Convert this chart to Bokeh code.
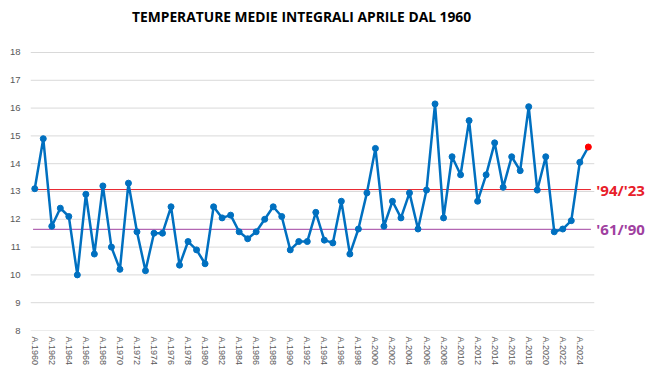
from bokeh.plotting import figure
from bokeh.models import Range1d, FixedTicker, Label, ColumnDataSource
from bokeh.embed import file_html
from bokeh.resources import INLINE

years = list(range(1960, 2026))
temps = [13.1, 14.9, 11.75, 12.4, 12.1, 10.0, 12.9, 10.75, 13.2, 11.0,
         10.2, 13.3, 11.55, 10.15, 11.5, 11.5, 12.45, 10.35, 11.2, 10.9,
         10.4, 12.45, 12.05, 12.15, 11.55, 11.3, 11.55, 12.0, 12.45, 12.1,
         10.9, 11.2, 11.2, 12.25, 11.25, 11.15, 12.65, 10.75, 11.65, 12.95,
         14.55, 11.75, 12.65, 12.05, 12.95, 11.65, 13.05, 16.15, 12.05, 14.25,
         13.6, 15.55, 12.65, 13.6, 14.75, 13.15, 14.25, 13.75, 16.05, 13.05,
         14.25, 11.55, 11.65, 11.95, 14.05, 14.6]
tick_years = years[:-1:2]
tick_labels = {y: f"A.{y}" for y in tick_years}
y_ticks = list(range(8, 19))
ref_names = ["'94/'23", "'61/'90"]
ref_values = [13.07, 11.64]
ref_colors = ["#e8202a", "#a040a0"]
title_text = "TEMPERATURE MEDIE INTEGRALI APRILE DAL 1960"

# plot area spans the years plus room on the right for the reference labels
# and room on top for the title
x_start = years[0] - 0.5
grid_end = years[-1] + 0.7
x_end = years[-1] + 7.3
y_end = y_ticks[-1] + 1.87

p = figure(width=650, height=370, output_backend="svg", toolbar_location=None,
           x_range=Range1d(x_start, x_end), y_range=Range1d(y_ticks[0], y_end),
           min_border_left=30, min_border_right=0, min_border_top=0,
           min_border_bottom=40, outline_line_color=None)

# axes
p.xaxis.ticker = FixedTicker(ticks=tick_years)
p.xaxis.major_label_overrides = tick_labels
p.xaxis.major_label_orientation = "vertical"
p.xaxis.major_label_text_font = "Liberation Sans"
p.xaxis.major_label_text_font_size = "9px"
p.xaxis.major_label_text_color = "#595959"
p.xaxis.axis_line_color = None
p.xaxis.major_tick_line_color = None
p.xaxis.minor_tick_line_color = None
p.xaxis.major_tick_out = 0
p.xaxis.major_tick_in = 0
p.xaxis.major_label_standoff = 6

p.yaxis.ticker = FixedTicker(ticks=y_ticks)
p.yaxis.major_label_text_font = "Liberation Sans"
p.yaxis.major_label_text_font_size = "9.5px"
p.yaxis.major_label_text_color = "#595959"
p.yaxis.axis_line_color = None
p.yaxis.major_tick_line_color = None
p.yaxis.minor_tick_line_color = None
p.yaxis.major_tick_out = 0
p.yaxis.major_tick_in = 0
p.yaxis.major_label_standoff = 10

p.xgrid.grid_line_color = None
p.ygrid.grid_line_color = None

# title
p.add_layout(Label(x=(years[0] + years[-1]) / 2, y=y_end, text=title_text,
                   x_offset=-10, y_offset=-16, text_align="center",
                   text_baseline="middle", text_font="Open Sans",
                   text_font_style="bold", text_font_size="13.8px",
                   text_color="#000000"))

# horizontal gridlines limited to the data area
p.segment(x0=[x_start] * len(y_ticks), y0=y_ticks, x1=[grid_end] * len(y_ticks),
          y1=y_ticks, line_color="#d9d9d9", line_width=1)

# reference lines
for name, val, col in zip(ref_names, ref_values, ref_colors):
    p.segment(x0=[years[0] - 0.2], y0=[val], x1=[years[-1] + 0.3], y1=[val],
              line_color=col, line_width=1)
    p.add_layout(Label(x=years[-1], y=val, text=name, x_offset=8, y_offset=0,
                       text_baseline="middle", text_font="Open Sans",
                       text_font_style="bold", text_font_size="15px",
                       text_color=col))

src = ColumnDataSource(dict(x=years[:-1], y=temps[:-1]))
p.line(years, temps, line_color="#0070c0", line_width=2.5)
p.scatter("x", "y", source=src, size=6, fill_color="#0070c0", line_color="#0070c0")
p.scatter([years[-1]], [temps[-1]], size=6, fill_color="#ff0000", line_color="#ff0000")

open("out.html", "w").write(file_html(p, INLINE))
